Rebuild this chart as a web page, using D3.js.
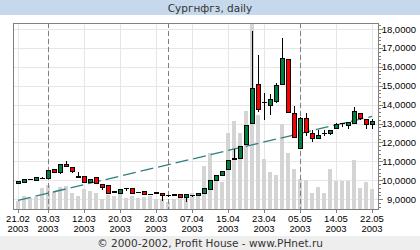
<!DOCTYPE html>
<html><head><meta charset="utf-8">
<script src="https://cdn.jsdelivr.net/npm/d3@7/dist/d3.min.js"></script>
<style>
html,body{margin:0;padding:0;background:#fff;}
svg{display:block;}
</style></head>
<body>
<script>
const title = "Сургнфгз, daily";
const footer = "© 2000-2002, Profit House - www.PHnet.ru";
const dates = ["21.02","25.02","26.02","27.02","28.02","03.03","04.03","05.03","06.03","07.03","11.03","12.03","13.03","14.03","17.03","18.03","19.03","20.03","21.03","24.03","25.03","26.03","27.03","28.03","31.03","01.04","02.04","03.04","04.04","07.04","08.04","09.04","10.04","11.04","14.04","15.04","16.04","17.04","18.04","21.04","22.04","23.04","24.04","25.04","28.04","29.04","30.04","05.05","06.05","07.05","08.05","12.05","13.05","14.05","15.05","16.05","19.05","20.05","21.05","22.05"];
const open  = [9850,9906,10020,10012,10110,10118,10580,10430,10858,10680,10170,10223,9880,10150,9800,9730,9380,9310,9580,9570,9350,9400,9250,9320,9320,9200,9225,9270,9110,9200,9210,9320,9520,10010,10276,10560,11123,11150,11916,13027,15090,14138,13980,14191,15090,16413,13556,11705,13292,12498,12234,12498,12498,12763,12990,12921,13027,13556,13239,12974];
const high  = [9930,10065,10080,10180,10150,10560,10600,10830,11017,10700,10435,10240,10080,10170,9810,9740,9400,9530,9590,9580,9360,9410,9270,9330,9330,9210,9240,9280,9270,9205,9330,9560,10010,10290,10500,11080,11630,11830,12940,17894,16625,14614,14561,15140,17524,16440,13927,13345,13556,12657,12657,12657,12670,13027,13027,13100,13874,13570,13260,13239];
const low   = [9800,9850,10000,9960,10070,10100,10380,10310,10700,10400,10150,9870,9870,9830,9483,9300,9350,9300,9450,9300,9320,9260,9230,9260,8900,9130,9200,9100,8870,9120,9200,9310,9510,10000,10260,10550,11100,11140,11900,12990,13609,13186,13451,14085,15050,13556,12260,11690,12340,12022,12181,12340,12392,12710,12816,12700,13000,13200,12710,12710];
const close = [9920,10065,10060,10171,10120,10541,10400,10820,10720,10450,10190,9880,10065,9840,9625,9310,9370,9520,9585,9310,9345,9270,9245,9330,9210,9195,9220,9110,9260,9190,9320,9550,10000,10276,10488,11070,11130,11811,12921,14879,13768,14130,14297,15038,16466,13609,12287,13292,12551,12234,12392,12490,12657,12974,13000,13080,13662,13292,12974,13133];
const volume = [83,130,110,120,207,240,173,217,230,157,130,197,183,157,97,140,130,157,107,130,107,117,130,97,97,73,97,107,120,165,165,430,560,340,270,760,880,760,980,1860,940,500,370,340,850,560,400,300,290,160,220,160,400,280,280,280,490,210,270,200];
const xTickDates = ["21.02","03.03","12.03","20.03","28.03","07.04","15.04","23.04","05.05","14.05","22.05"];
const xTickYear = "2003";
const monthStarts = ["03.03","01.04","05.05"];
const yTickValues = [9000,10000,11000,12000,13000,14000,15000,16000,17000,18000];
const yTickLabels = ["9,0000","10,0000","11,0000","12,0000","13,0000","14,0000","15,0000","16,0000","17,0000","18,0000"];
const trendStart = 8940, trendEnd = 13380;

const W = 420, H = 250;
const L = 13, R = 378, T = 23, B = 209;
const svg = d3.select("body").append("svg").attr("width", W).attr("height", H);

const n = dates.length;
const x = d3.scaleLinear().domain([-0.833, n]).range([L, R]);
const y = d3.scaleLinear().domain([8480, 18320]).range([B, T]);
const yv = d3.scaleLinear().domain([0, d3.max(volume)]).range([B, T]);
const idx = d => dates.indexOf(d);

// header & footer
svg.append("rect").attr("x",0).attr("y",0).attr("width",W).attr("height",15).attr("fill","#c6d9ec");
svg.append("text").attr("x",W/2).attr("y",12).attr("text-anchor","middle")
  .attr("font-family","DejaVu Sans").attr("font-size","10.5px").attr("fill","#333").text(title);
svg.append("rect").attr("x",0).attr("y",236).attr("width",W).attr("height",14).attr("fill","#eeeeee");
svg.append("text").attr("x",W/2).attr("y",247).attr("text-anchor","middle")
  .attr("font-family","DejaVu Sans").attr("font-size","10.5px").attr("fill","#333").text(footer);

const g = svg.append("g").attr("shape-rendering","crispEdges");
// grid
g.selectAll(".hg").data(yTickValues).join("line")
  .attr("x1",L).attr("x2",R).attr("y1",d=>Math.round(y(d))+0.5).attr("y2",d=>Math.round(y(d))+0.5)
  .attr("stroke","#e6e6e6");
g.selectAll(".vg").data(xTickDates).join("line")
  .attr("x1",d=>Math.round(x(idx(d)))+0.5).attr("x2",d=>Math.round(x(idx(d)))+0.5)
  .attr("y1",T).attr("y2",B).attr("stroke","#e6e6e6");

// volume
g.selectAll(".vol").data(volume).join("rect")
  .attr("x",(d,i)=>Math.round(x(i))-2).attr("width",4)
  .attr("y",d=>yv(d)).attr("height",d=>B-yv(d)).attr("fill","#d4d4d4");

// month separators
g.selectAll(".ms").data(monthStarts).join("line")
  .attr("x1",d=>Math.round(x(idx(d)))+0.5).attr("x2",d=>Math.round(x(idx(d)))+0.5)
  .attr("y1",T).attr("y2",B).attr("stroke","#808080").attr("stroke-dasharray","5,3");

// trend
svg.append("line").attr("x1",x(0)).attr("y1",y(trendStart)).attr("x2",x(n-1)).attr("y2",y(trendEnd))
  .attr("stroke","#2f7f7f").attr("stroke-width",1.3).attr("stroke-dasharray","13,5");

// candles
const cg = svg.append("g").attr("shape-rendering","crispEdges");
const idxs = d3.range(n);
cg.selectAll(".wick").data(idxs).join("line")
  .attr("x1",i=>Math.round(x(i))+0.5).attr("x2",i=>Math.round(x(i))+0.5)
  .attr("y1",i=>y(high[i])).attr("y2",i=>y(low[i])).attr("stroke","#000");
cg.selectAll(".body").data(idxs).join("rect")
  .attr("x",i=>Math.round(x(i))-1.5).attr("width",4)
  .attr("y",i=>y(Math.max(open[i],close[i])))
  .attr("height",i=>Math.abs(y(open[i])-y(close[i])))
  .attr("fill",i=>close[i]>open[i]?"#00803f":(close[i]<open[i]?"#ff0000":"#000"))
  .attr("stroke","#000");

// frame
const fr = svg.append("g").attr("shape-rendering","crispEdges");
fr.append("rect").attr("x",L+0.5).attr("y",T+0.5).attr("width",R-L).attr("height",B-T)
  .attr("fill","none").attr("stroke","#808080");

// y axis ticks (right)
const minor = d3.range(8600, 18320, 200).filter(v=>v%1000!==0);
fr.selectAll(".mt").data(minor).join("line")
  .attr("x1",R).attr("x2",R+3).attr("y1",d=>Math.round(y(d))+0.5).attr("y2",d=>Math.round(y(d))+0.5).attr("stroke","#808080");
fr.selectAll(".Mt").data(yTickValues).join("line")
  .attr("x1",R).attr("x2",R+5).attr("y1",d=>Math.round(y(d))+0.5).attr("y2",d=>Math.round(y(d))+0.5).attr("stroke","#808080");
svg.selectAll(".yl").data(yTickValues).join("text")
  .attr("x",416).attr("y",d=>y(d)+3.5).attr("text-anchor","end")
  .attr("font-family","Liberation Sans").attr("font-size","9.5px").attr("fill","#000")
  .text((d,i)=>yTickLabels[i]);

// x axis ticks & labels
fr.selectAll(".xt").data(xTickDates).join("line")
  .attr("x1",d=>Math.round(x(idx(d)))+0.5).attr("x2",d=>Math.round(x(idx(d)))+0.5)
  .attr("y1",B).attr("y2",B+4).attr("stroke","#808080");
const xl = svg.selectAll(".xl").data(xTickDates).join("text")
  .attr("text-anchor","middle").attr("font-family","Liberation Sans").attr("font-size","9.5px").attr("fill","#000");
xl.append("tspan").attr("x",d=>x(idx(d))).attr("y",222).text(d=>d);
xl.append("tspan").attr("x",d=>x(idx(d))).attr("y",232).text(xTickYear);
</script>
</body></html>
